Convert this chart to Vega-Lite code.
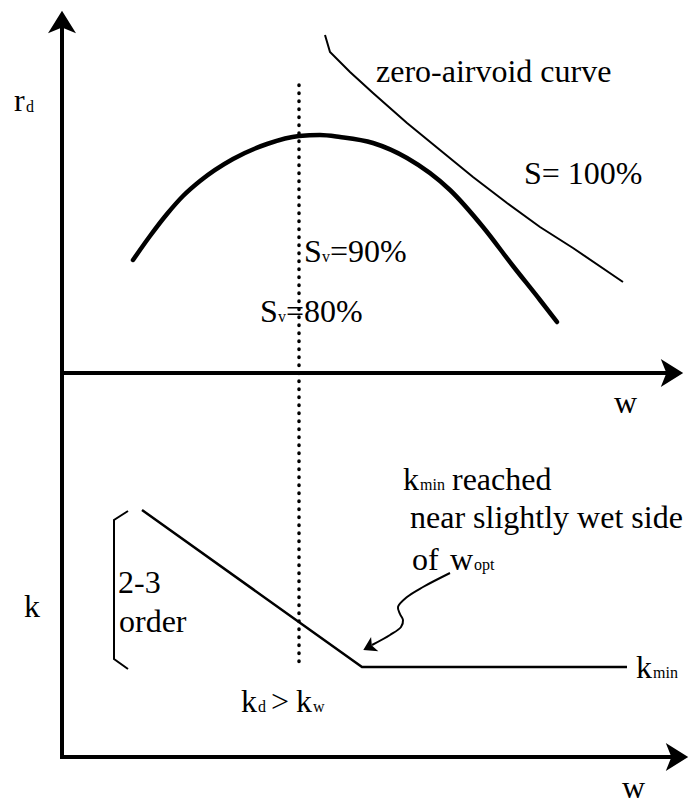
{
  "$schema": "https://vega.github.io/schema/vega-lite/v6.json",
  "width": 691,
  "height": 805,
  "padding": 0,
  "autosize": {"type": "fit", "contains": "padding"},
  "background": "white",
  "config": {"view": {"stroke": null}},
  "datasets": {
    "paths": [
      {"g": "axes", "i": 1, "x": 62, "y": 20},
      {"g": "axes", "i": 2, "x": 62, "y": 757},
      {"g": "axes", "i": 3, "x": 678, "y": 757},
      {"g": "axis1", "i": 1, "x": 62, "y": 373},
      {"g": "axis1", "i": 2, "x": 674, "y": 373},
      {"g": "compaction", "i": 1, "x": 133, "y": 260},
      {"g": "compaction", "i": 2, "x": 150, "y": 236},
      {"g": "compaction", "i": 3, "x": 167, "y": 214},
      {"g": "compaction", "i": 4, "x": 183, "y": 196},
      {"g": "compaction", "i": 5, "x": 200, "y": 181},
      {"g": "compaction", "i": 6, "x": 233, "y": 159},
      {"g": "compaction", "i": 7, "x": 267, "y": 144},
      {"g": "compaction", "i": 8, "x": 299, "y": 136},
      {"g": "compaction", "i": 9, "x": 320, "y": 135},
      {"g": "compaction", "i": 10, "x": 340, "y": 137},
      {"g": "compaction", "i": 11, "x": 373, "y": 143},
      {"g": "compaction", "i": 12, "x": 407, "y": 158},
      {"g": "compaction", "i": 13, "x": 450, "y": 190},
      {"g": "compaction", "i": 14, "x": 483, "y": 227},
      {"g": "compaction", "i": 15, "x": 513, "y": 266},
      {"g": "compaction", "i": 16, "x": 540, "y": 300},
      {"g": "compaction", "i": 17, "x": 557, "y": 322},
      {"g": "zav", "i": 1, "x": 325, "y": 35},
      {"g": "zav", "i": 2, "x": 330, "y": 52},
      {"g": "zav", "i": 3, "x": 350, "y": 72},
      {"g": "zav", "i": 4, "x": 373, "y": 93},
      {"g": "zav", "i": 5, "x": 407, "y": 123},
      {"g": "zav", "i": 6, "x": 440, "y": 150},
      {"g": "zav", "i": 7, "x": 473, "y": 177},
      {"g": "zav", "i": 8, "x": 507, "y": 203},
      {"g": "zav", "i": 9, "x": 540, "y": 227},
      {"g": "zav", "i": 10, "x": 573, "y": 248},
      {"g": "zav", "i": 11, "x": 623, "y": 282},
      {"g": "kline", "i": 1, "x": 142, "y": 510},
      {"g": "kline", "i": 2, "x": 362, "y": 667},
      {"g": "kline", "i": 3, "x": 627, "y": 667},
      {"g": "bracket", "i": 1, "x": 128, "y": 511},
      {"g": "bracket", "i": 2, "x": 114, "y": 520},
      {"g": "bracket", "i": 3, "x": 114, "y": 659},
      {"g": "bracket", "i": 4, "x": 128, "y": 669},
      {"g": "squiggle", "i": 1, "x": 450, "y": 573},
      {"g": "squiggle", "i": 2, "x": 423, "y": 587},
      {"g": "squiggle", "i": 3, "x": 407, "y": 597},
      {"g": "squiggle", "i": 4, "x": 398, "y": 607},
      {"g": "squiggle", "i": 5, "x": 400, "y": 614},
      {"g": "squiggle", "i": 6, "x": 403, "y": 620},
      {"g": "squiggle", "i": 7, "x": 401, "y": 627},
      {"g": "squiggle", "i": 8, "x": 390, "y": 635},
      {"g": "squiggle", "i": 9, "x": 372, "y": 645}
    ],
    "heads": [
      {"dir": "up", "x": 62, "y": 22},
      {"dir": "right", "x": 672, "y": 373},
      {"dir": "right", "x": 677, "y": 757}
    ],
    "smallheads": [
      {"dir": "downleft", "x": 369, "y": 647}
    ],
    "dotted": [
      {"x": 299, "y": 85, "y2": 667}
    ],
    "labels": [
      {"kind": "main", "t": "r", "x": 14, "y": 111},
      {"kind": "sub", "t": "d", "x": 26, "y": 112},
      {"kind": "main", "t": "zero-airvoid curve", "x": 376, "y": 82},
      {"kind": "main", "t": "S= 100%", "x": 524, "y": 184},
      {"kind": "main", "t": "S", "x": 304, "y": 262},
      {"kind": "sub", "t": "v", "x": 322, "y": 262},
      {"kind": "main", "t": "=90%", "x": 330, "y": 262},
      {"kind": "main", "t": "S", "x": 260, "y": 322},
      {"kind": "sub", "t": "v", "x": 278, "y": 322},
      {"kind": "main", "t": "=80%", "x": 286, "y": 322},
      {"kind": "main", "t": "w", "x": 614, "y": 413},
      {"kind": "main", "t": "k", "x": 403, "y": 490},
      {"kind": "sub", "t": "min", "x": 420, "y": 490},
      {"kind": "main", "t": "reached", "x": 452, "y": 490},
      {"kind": "main", "t": "near slightly wet side", "x": 410, "y": 528},
      {"kind": "main", "t": "of", "x": 412, "y": 570},
      {"kind": "main", "t": "w", "x": 450, "y": 570},
      {"kind": "sub", "t": "opt", "x": 474, "y": 570},
      {"kind": "main", "t": "k", "x": 24, "y": 617},
      {"kind": "main", "t": "2-3", "x": 118, "y": 593},
      {"kind": "main", "t": "order", "x": 119, "y": 632},
      {"kind": "main", "t": "k", "x": 636, "y": 678},
      {"kind": "sub", "t": "min", "x": 653, "y": 678},
      {"kind": "main", "t": "k", "x": 241, "y": 712},
      {"kind": "sub", "t": "d", "x": 258, "y": 712},
      {"kind": "main", "t": ">", "x": 271, "y": 712},
      {"kind": "main", "t": "k", "x": 296, "y": 712},
      {"kind": "sub", "t": "w", "x": 313, "y": 712},
      {"kind": "main", "t": "w", "x": 622, "y": 798}
    ]
  },
  "encoding": {
    "x": {"field": "x", "type": "quantitative", "scale": {"domain": [0, 691], "nice": false, "zero": false}, "axis": null},
    "y": {"field": "y", "type": "quantitative", "scale": {"domain": [0, 805], "nice": false, "zero": false, "reverse": true}, "axis": null}
  },
  "layer": [
    {
      "data": {"name": "paths"},
      "transform": [{"filter": "datum.g === 'axes' || datum.g === 'axis1'"}],
      "mark": {"type": "line", "color": "black", "strokeWidth": 4, "strokeJoin": "miter", "strokeCap": "butt"},
      "encoding": {"detail": {"field": "g"}, "order": {"field": "i"}}
    },
    {
      "data": {"name": "paths"},
      "transform": [{"filter": "datum.g === 'compaction'"}],
      "mark": {"type": "line", "color": "black", "strokeWidth": 4.5, "interpolate": "monotone", "strokeCap": "round"},
      "encoding": {"order": {"field": "i"}}
    },
    {
      "data": {"name": "paths"},
      "transform": [{"filter": "datum.g === 'zav'"}],
      "mark": {"type": "line", "color": "black", "strokeWidth": 2, "interpolate": "linear"},
      "encoding": {"order": {"field": "i"}}
    },
    {
      "data": {"name": "paths"},
      "transform": [{"filter": "datum.g === 'kline'"}],
      "mark": {"type": "line", "color": "black", "strokeWidth": 2.5, "strokeJoin": "miter"},
      "encoding": {"order": {"field": "i"}}
    },
    {
      "data": {"name": "paths"},
      "transform": [{"filter": "datum.g === 'bracket'"}],
      "mark": {"type": "line", "color": "black", "strokeWidth": 2},
      "encoding": {"order": {"field": "i"}}
    },
    {
      "data": {"name": "paths"},
      "transform": [{"filter": "datum.g === 'squiggle'"}],
      "mark": {"type": "line", "color": "black", "strokeWidth": 2, "interpolate": "catmull-rom"},
      "encoding": {"order": {"field": "i"}}
    },
    {
      "data": {"name": "dotted"},
      "mark": {"type": "rule", "color": "black", "strokeWidth": 3.5, "strokeDash": [0.5, 7.5], "strokeCap": "round"},
      "encoding": {"y2": {"field": "y2"}}
    },
    {
      "data": {"name": "heads"},
      "mark": {"type": "point", "filled": true, "color": "black", "opacity": 1, "size": 784, "shape": "M0,-0.8L1,0.8L0,0.4L-1,0.8Z", "strokeWidth": 0},
      "encoding": {
        "angle": {"field": "dir", "type": "ordinal", "scale": {"type": "ordinal", "domain": ["up", "right", "downleft"], "range": [0, 90, 243]}, "legend": null}
      }
    },
    {
      "data": {"name": "smallheads"},
      "mark": {"type": "point", "filled": true, "color": "black", "opacity": 1, "size": 256, "shape": "M0,-0.8L1,0.8L0,0.4L-1,0.8Z", "strokeWidth": 0},
      "encoding": {
        "angle": {"field": "dir", "type": "ordinal", "scale": {"type": "ordinal", "domain": ["up", "right", "downleft"], "range": [0, 90, 243]}, "legend": null}
      }
    },
    {
      "data": {"name": "labels"},
      "transform": [{"filter": "datum.kind === 'main'"}],
      "mark": {"type": "text", "font": "Liberation Serif, Times New Roman, Times, serif", "fontSize": 32, "align": "left", "baseline": "alphabetic", "color": "black"},
      "encoding": {"text": {"field": "t"}}
    },
    {
      "data": {"name": "labels"},
      "transform": [{"filter": "datum.kind === 'sub'"}],
      "mark": {"type": "text", "font": "Liberation Serif, Times New Roman, Times, serif", "fontSize": 16, "align": "left", "baseline": "alphabetic", "color": "black"},
      "encoding": {"text": {"field": "t"}}
    }
  ]
}
